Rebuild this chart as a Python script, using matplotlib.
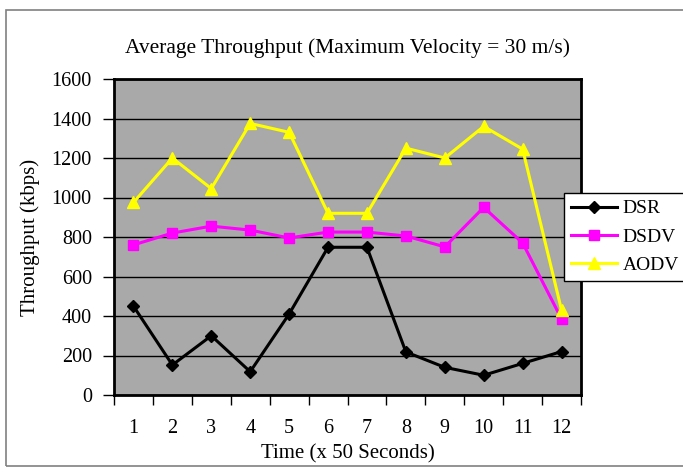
import matplotlib
matplotlib.use("Agg")
import matplotlib.pyplot as plt
from matplotlib.patches import Rectangle
from matplotlib.ticker import FixedLocator

times = [1, 2, 3, 4, 5, 6, 7, 8, 9, 10, 11, 12]
dsr = [450, 152, 300, 118, 410, 748, 748, 218, 140, 100, 160, 220]
dsdv = [760, 820, 855, 835, 795, 825, 825, 805, 750, 950, 770, 385]
aodv = [975, 1200, 1045, 1375, 1330, 920, 920, 1250, 1200, 1360, 1245, 430]
yticks = [0, 200, 400, 600, 800, 1000, 1200, 1400, 1600]

plt.rcParams['font.family'] = ['Liberation Serif', 'DejaVu Serif']

fig = plt.figure(figsize=(6.83, 4.68), dpi=100)
ax = fig.add_axes([114/683, 1-395/468, (581-114)/683, (395-79)/468])
ax.set_facecolor('#a9a9a9')

ax.plot(times, dsr, color='black', marker='D', markersize=6, lw=2.2, label='DSR', zorder=3)
ax.plot(times, dsdv, color='#ff00ff', marker='s', markersize=7, lw=2.2, label='DSDV', zorder=3)
ax.plot(times, aodv, color='#ffff00', marker='^', markersize=8, lw=2.2, label='AODV', zorder=3)

ax.set_xlim(0.5, 12.5)
ax.set_ylim(0, 1600)
ax.set_yticks(yticks)
ax.set_xticks(times)
ax.xaxis.set_minor_locator(FixedLocator([i + 0.5 for i in range(0, 13)]))
ax.tick_params(axis='x', which='major', length=0, labelsize=14.5, pad=17)
ax.tick_params(axis='x', which='minor', length=7, width=1, direction='out')
ax.tick_params(axis='y', length=8, width=1, direction='out', labelsize=14.5, pad=8)
ax.grid(axis='y', color='black', lw=1)
ax.set_axisbelow(True)
for s in ax.spines.values():
    s.set_linewidth(2)
    s.set_color('black')

ax.set_title('Average Throughput (Maximum Velocity = 30 m/s)', fontsize=15.5, pad=19)
ax.set_xlabel('Time (x 50 Seconds)', fontsize=15, labelpad=5)
ax.set_ylabel('Throughput (kbps)', fontsize=15, labelpad=8)

leg = fig.legend(loc='upper left', bbox_to_anchor=(564/683, 1-193/468), fontsize=14,
                 frameon=True, fancybox=False, edgecolor='black', framealpha=1,
                 handlelength=2.4, borderpad=0.35, labelspacing=0.55, handletextpad=0.25,
                 borderaxespad=0)
leg.get_frame().set_linewidth(1)

fig.patches.append(Rectangle((6/683, 2/468), 1.0, 1-12/468, transform=fig.transFigure,
                             fill=False, edgecolor='#808080', lw=1.2))

fig.savefig('out.png', dpi=100)
